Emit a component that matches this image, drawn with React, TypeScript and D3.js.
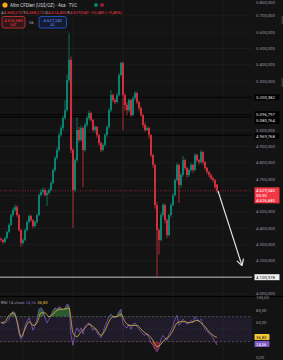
import React from 'react';
import * as d3 from 'd3';

// ---------- DATA ----------
const opens = [4335, 4328, 4316, 4340, 4377, 4420, 4481, 4512, 4530, 4481, 4389, 4310, 4328, 4389, 4438, 4475, 4450, 4414, 4438, 4481,
  4603, 4622, 4634, 4603, 4616, 4634, 4677, 4756, 4830, 4879, 4970, 5013, 5074, 5123, 5307, 5429, 4879, 4634, 4817, 5001,
  4940, 5013, 4879, 5032, 5074, 5105, 5062, 5001, 5019, 4970, 4921, 4879, 4909, 4970, 5019, 5123, 5215, 5184, 5172, 5215,
  5337, 5411, 5215, 5154, 5123, 5184, 5093, 5197, 5227, 5172, 5135, 5093, 5032, 5001, 5013, 4970, 4848, 4787, 4542, 4389,
  4328, 4481, 4542, 4450, 4359, 4481, 4542, 4603, 4695, 4787, 4665, 4726, 4817, 4769, 4726, 4756, 4787, 4756, 4848, 4817,
  4805, 4866, 4805, 4769, 4744, 4726, 4707, 4695, 4668.21];
const closes = [4328, 4316, 4340, 4377, 4420, 4481, 4512, 4530, 4481, 4389, 4310, 4328, 4389, 4438, 4475, 4450, 4414, 4438, 4481, 4603,
  4622, 4634, 4603, 4616, 4634, 4677, 4756, 4830, 4879, 4970, 5013, 5074, 5123, 5307, 5429, 4879, 4634, 4817, 5001, 4940,
  5013, 4879, 5032, 5074, 5105, 5062, 5001, 5019, 4970, 4921, 4879, 4909, 4970, 5019, 5123, 5215, 5184, 5172, 5215, 5337,
  5411, 5215, 5154, 5123, 5184, 5093, 5197, 5227, 5172, 5135, 5093, 5032, 5001, 5013, 4970, 4848, 4787, 4542, 4389, 4328,
  4481, 4542, 4450, 4359, 4481, 4542, 4603, 4695, 4787, 4665, 4726, 4817, 4769, 4726, 4756, 4787, 4756, 4848, 4817, 4805,
  4866, 4805, 4769, 4744, 4726, 4707, 4695, 4651.525, 4629.04];
const highs = [4345, 4334, 4348, 4385, 4430, 4490, 4525, 4545, 4540, 4490, 4395, 4340, 4398, 4448, 4485, 4482, 4455, 4446, 4490, 4612,
  4640, 4650, 4645, 4630, 4645, 4690, 4765, 4840, 4895, 4985, 5030, 5090, 5184, 5340, 5594, 5450, 4890, 4830, 5080, 5020,
  5030, 5020, 5045, 5090, 5120, 5112, 5070, 5030, 5025, 4978, 4930, 4920, 4980, 5030, 5135, 5246, 5225, 5195, 5230, 5350,
  5417, 5420, 5225, 5170, 5195, 5190, 5210, 5240, 5235, 5180, 5145, 5100, 5045, 5025, 5020, 4975, 4855, 4795, 4560, 4400,
  4495, 4555, 4550, 4460, 4490, 4555, 4615, 4705, 4800, 4795, 4740, 4842, 4825, 4775, 4765, 4800, 4795, 4860, 4855, 4825,
  4879, 4872, 4812, 4775, 4752, 4735, 4715, 4700, 4668.21];
const lows = [4318, 4305, 4310, 4335, 4370, 4412, 4470, 4500, 4470, 4380, 4285, 4300, 4320, 4380, 4430, 4440, 4400, 4405, 4430, 4475,
  4595, 4610, 4595, 4536, 4605, 4625, 4670, 4745, 4820, 4870, 4960, 5000, 5065, 5115, 5290, 4860, 4401, 4620, 4805, 4925,
  4930, 4652, 4870, 5020, 5060, 5050, 4990, 4985, 4955, 4905, 4866, 4870, 4900, 4960, 5010, 5110, 5170, 5160, 5165, 5205,
  5330, 5001, 5120, 5090, 5110, 5080, 5085, 5185, 5160, 5120, 5080, 5015, 4990, 4995, 4950, 4835, 4770, 4520, 4100.978, 4240,
  4320, 4470, 4430, 4340, 4350, 4470, 4535, 4595, 4685, 4554, 4650, 4715, 4755, 4710, 4715, 4745, 4740, 4750, 4805, 4790,
  4795, 4790, 4755, 4730, 4712, 4695, 4680, 4640, 4614.4];

const rsiValues = [62, 58, 60, 62, 66, 74, 78, 76, 60, 44, 34, 40, 55, 63, 68, 60, 48, 55, 66, 82,
  84, 80, 68, 60, 66, 72, 80, 84, 82, 86, 84, 80, 84, 90, 88, 40, 24, 44, 52, 46,
  52, 42, 54, 58, 60, 55, 48, 52, 44, 40, 36, 44, 55, 62, 70, 74, 70, 68, 72, 78,
  82, 58, 54, 52, 58, 50, 58, 60, 54, 50, 46, 42, 40, 42, 36, 28, 24, 18, 14, 20,
  34, 40, 36, 32, 42, 48, 55, 66, 72, 56, 60, 66, 62, 58, 60, 64, 60, 70, 66, 62,
  66, 56, 50, 46, 44, 40, 36, 30, 24.56];
const rsiMaValues = [60, 62, 72, 76, 64, 38, 50, 62, 56, 60, 76, 76, 70, 74, 80, 82, 82, 84, 44, 38,
  46, 52, 58, 54, 48, 40, 48, 62, 70, 70, 74, 62, 56, 56, 56, 50, 44, 40, 32, 22,
  26, 34, 38, 48, 60, 62, 62, 60, 62, 64, 60, 54, 46, 40, 36.83];

const priceTicks = [4000, 4200, 4300, 4400, 4500, 4700, 4800, 4900, 5000, 5300, 5400, 5500, 5600, 5700, 5800];
const rsiTicks = [100, 80, 60, 0];
const levelPrices = [5200.382, 5096.797, 5080.764, 4969.768];
const lowLevel = 4100.978;
const bidPrice = 4626.68;
const askPrice = 4627.24;
const lastRsi = 24.56;
const lastRsiMa = 36.83;
const countdown = '50:30';
const arrowStart = { i: 108.5, p: 4629.04 };
const arrowEnd = { i: 120.5, p: 4172 };

// ---------- STYLE ----------
const W = 283, H = 360;
const BG = '#131313';
const UP = '#089981', DOWN = '#f23645';
const GRID = '#1c1c1c';
const AXIS_TXT = '#9598a1';
const FONT = 'Roboto, "Liberation Sans", sans-serif';
const levelLabelOffset = [0, 0, 4, 1];

const loc = d3.formatLocale({ decimal: ',', thousands: '.', grouping: [3], currency: ['', ''] });
const fmtP = loc.format(',.3f');
const fmt2 = loc.format(',.2f');

export default function App() {
  const n = closes.length;
  const x = d3.scaleLinear().domain([0, n - 1]).range([1, 217]);
  const y = d3.scaleLinear().domain([4000, 5700]).range([293.7, 15.7]);
  const yR = d3.scaleLinear().domain([0, 100]).range([360.4, 297.9]);
  const xMa = d3.scaleLinear().domain([0, rsiMaValues.length - 1]).range([1, 217]);

  const rsiLine = d3.line<number>().x((_, i) => x(i)).y(d => yR(d));
  const maLine = d3.line<number>().x((_, i) => xMa(i)).y(d => yR(d)).curve(d3.curveMonotoneX);
  const obArea = d3.area<number>().x((_, i) => x(i)).y0(yR(70)).y1(d => yR(d));
  const osArea = d3.area<number>().x((_, i) => x(i)).y0(yR(30)).y1(d => yR(d));

  const vGrid = [23, 73, 123, 173, 223];
  const lastClose = closes[n - 1];
  const yLast = y(lastClose);

  const ax = x(arrowStart.i), ay = y(arrowStart.p);
  const bx = x(arrowEnd.i), by = y(arrowEnd.p);
  const ang = Math.atan2(by - ay, bx - ax);
  const hl = 7;
  const b1 = [bx - hl * Math.cos(ang - Math.PI / 6), by - hl * Math.sin(ang - Math.PI / 6)];
  const b2 = [bx - hl * Math.cos(ang + Math.PI / 6), by - hl * Math.sin(ang + Math.PI / 6)];

  const lastChange = closes[n - 1] - closes[n - 2];
  const pct = lastChange / closes[n - 2] * 100;

  // keep edge labels fully inside the picture
  const clampY = (v: number) => Math.max(2.2, Math.min(H - 2.4, v));

  return (
    <div style={{ position: 'fixed', left: 0, top: 0, width: W, height: H, background: BG }}>
      <svg width={W} height={H} style={{ display: 'block', fontFamily: FONT }}>
        <defs>
          <clipPath id="mainClip"><rect x={0} y={0} width={252} height={296} /></clipPath>
          <clipPath id="obClip"><rect x={0} y={297} width={252} height={yR(70) - 297} /></clipPath>
          <clipPath id="osClip"><rect x={0} y={yR(30)} width={252} height={H - yR(30)} /></clipPath>
          <clipPath id="rsiClip"><rect x={0} y={297} width={252} height={63} /></clipPath>
        </defs>
        <rect width={W} height={H} fill={BG} />

        {/* grid */}
        {vGrid.map(g => <line key={'v' + g} x1={g} x2={g} y1={0} y2={H} stroke={GRID} strokeWidth={1} />)}
        {d3.range(4000, 5900, 100).map(p => (
          <line key={'h' + p} x1={0} x2={252} y1={y(p)} y2={y(p)} stroke={GRID} strokeWidth={1} />
        ))}

        {/* horizontal drawn levels */}
        <g clipPath="url(#mainClip)">
          {levelPrices.map(p => (
            <line key={'lv' + p} x1={0} x2={252} y1={y(p)} y2={y(p)} stroke="#050505" strokeWidth={1.3} />
          ))}
          <line x1={0} x2={252} y1={y(lowLevel)} y2={y(lowLevel)} stroke="#8a8a8a" strokeWidth={1.4} />
          <line x1={0} x2={252} y1={yLast} y2={yLast} stroke={DOWN} strokeWidth={0.7} strokeDasharray="1,1.5" opacity={0.8} />

          {/* candles */}
          {closes.map((c, i) => {
            const o = opens[i];
            const col = c >= o ? UP : DOWN;
            const cx = x(i);
            const top = y(Math.max(o, c));
            const bot = y(Math.min(o, c));
            return (
              <g key={'c' + i}>
                <line x1={cx} x2={cx} y1={y(highs[i])} y2={y(lows[i])} stroke={col} strokeWidth={0.7} />
                <rect x={cx - 0.75} y={top} width={1.5} height={Math.max(0.6, bot - top)} fill={col} />
              </g>
            );
          })}

          {/* arrow */}
          <line x1={ax} y1={ay} x2={bx} y2={by} stroke="#e6e6e6" strokeWidth={1.2} />
          <line x1={bx} y1={by} x2={b1[0]} y2={b1[1]} stroke="#e6e6e6" strokeWidth={1.2} />
          <line x1={bx} y1={by} x2={b2[0]} y2={b2[1]} stroke="#e6e6e6" strokeWidth={1.2} />
        </g>

        {/* pane separator */}
        <line x1={0} x2={W} y1={296.5} y2={296.5} stroke="#000" strokeWidth={1} />

        {/* RSI pane */}
        <rect x={0} y={yR(70)} width={252} height={yR(30) - yR(70)} fill="rgba(126,87,194,0.12)" />
        <line x1={0} x2={252} y1={yR(70)} y2={yR(70)} stroke="#5d606b" strokeWidth={0.7} strokeDasharray="2,2" />
        <line x1={0} x2={252} y1={yR(50)} y2={yR(50)} stroke="#3e4048" strokeWidth={0.7} strokeDasharray="1,2" />
        <line x1={0} x2={252} y1={yR(30)} y2={yR(30)} stroke="#5d606b" strokeWidth={0.7} strokeDasharray="2,2" />
        <g clipPath="url(#obClip)">
          <path d={obArea(rsiValues) || ''} fill="rgba(76,175,80,0.45)" />
        </g>
        <g clipPath="url(#osClip)">
          <path d={osArea(rsiValues) || ''} fill="rgba(242,54,69,0.45)" />
        </g>
        <g clipPath="url(#rsiClip)">
          <path d={rsiLine(rsiValues) || ''} fill="none" stroke="#7e57c2" strokeWidth={0.8} />
          <path d={maLine(rsiMaValues) || ''} fill="none" stroke="#d9b83c" strokeWidth={0.8} />
        </g>

        {/* price axis labels */}
        {priceTicks.map(p => (
          <text key={'pt' + p} x={256} y={clampY(y(p))} dy="0.35em" fontSize={4.3} fill={AXIS_TXT}>{fmtP(p)}</text>
        ))}
        {rsiTicks.map(v => (
          <text key={'rt' + v} x={256} y={clampY(yR(v))} dy="0.35em" fontSize={4.3} fill={AXIS_TXT}>{fmt2(v)}</text>
        ))}

        {/* level labels */}
        {levelPrices.map((p, i) => (
          <g key={'ll' + p}>
            <rect x={254.5} y={y(p) + levelLabelOffset[i] - 3} width={25} height={6} fill="#000" />
            <text x={256} y={y(p) + levelLabelOffset[i]} dy="0.35em" fontSize={4.3} fill="#e0e0e0">{fmtP(p)}</text>
          </g>
        ))}
        <rect x={254.5} y={y(lowLevel) - 3} width={25} height={6} fill="#f0f0f0" />
        <text x={256} y={y(lowLevel)} dy="0.35em" fontSize={4.3} fill="#131313">{fmtP(lowLevel)}</text>

        {/* last price label */}
        <rect x={254.5} y={yLast - 3.5} width={25} height={16} fill={DOWN} />
        <text x={256} y={yLast} dy="0.35em" fontSize={4.3} fill="#fff">{fmtP(lastClose)}</text>
        <text x={256} y={yLast + 4.7} dy="0.35em" fontSize={4.3} fill="#fff">{countdown}</text>
        <text x={256} y={yLast + 9.7} dy="0.35em" fontSize={4.3} fill="#fff">{fmtP(bidPrice)}</text>

        {/* rsi labels */}
        <rect x={254.5} y={334} width={15} height={6} rx={0.8} fill="#f2c53d" />
        <text x={256} y={337} dy="0.35em" fontSize={4.3} fill="#131313">{fmt2(lastRsiMa)}</text>
        <rect x={254.5} y={341} width={15} height={6} rx={0.8} fill="#7e57c2" />
        <text x={256} y={344} dy="0.35em" fontSize={4.3} fill="#fff">{fmt2(lastRsi)}</text>

        {/* scroll marks */}
        <rect x={281.5} y={16} width={1.5} height={8} fill="#3a3a3a" />
        <rect x={281.5} y={78} width={1.5} height={9} fill="#3a3a3a" />

        {/* header */}
        <circle cx={5} cy={5} r={2.6} fill="#f5a623" />
        <text x={10} y={5} dy="0.35em" fontSize={4.5} fill="#d1d4dc">Altın CFDleri (US$/OZ) · 4sa · TVC</text>
        <circle cx={96} cy={5} r={2} fill={UP} opacity={0.8} />
        <circle cx={102} cy={5} r={2} fill={DOWN} opacity={0.55} />

        <text x={1} y={12.7} dy="0.35em" fontSize={4.2} fill={DOWN}>
          <tspan fill="#b2b5be">A</tspan>{fmtP(opens[n - 1])}{' '}
          <tspan fill="#b2b5be">Y</tspan>{fmtP(highs[n - 1])}{' '}
          <tspan fill="#b2b5be">D</tspan>{fmtP(lows[n - 1])}{' '}
          <tspan fill="#b2b5be">K</tspan>{fmtP(lastClose)}{' '}
          {loc.format(',.3f')(lastChange).replace('-', '−')} ({loc.format(',.2f')(pct).replace('-', '−')}%)
        </text>

        <rect x={2} y={16.5} width={23} height={11.5} rx={2} fill="rgba(242,54,69,0.12)" stroke={DOWN} strokeWidth={0.7} />
        <text x={13.5} y={20.5} dy="0.35em" fontSize={4.2} fill={DOWN} textAnchor="middle">{fmtP(bidPrice)}</text>
        <text x={13.5} y={25} dy="0.35em" fontSize={3.6} fill={DOWN} textAnchor="middle">SAT</text>
        <text x={31.5} y={22.3} dy="0.35em" fontSize={3.8} fill="#b2b5be" textAnchor="middle">56</text>
        <rect x={39} y={16.5} width={27.5} height={11.5} rx={2} fill="rgba(41,98,255,0.12)" stroke="#2962ff" strokeWidth={0.7} />
        <text x={52.75} y={20.5} dy="0.35em" fontSize={4.2} fill="#5b8cff" textAnchor="middle">{fmtP(askPrice)}</text>
        <text x={52.75} y={25} dy="0.35em" fontSize={3.6} fill="#5b8cff" textAnchor="middle">AL</text>

        {/* RSI header */}
        <text x={1} y={302.7} dy="0.35em" fontSize={4.3} fill="#b2b5be">
          RSI <tspan fill="#8a8d96">14 close</tspan>{' '}
          <tspan fill="#7e57c2">{fmt2(lastRsi)}</tspan>{' '}
          <tspan fill="#e0c03c">{fmt2(lastRsiMa)}</tspan>
        </text>
      </svg>
    </div>
  );
}
